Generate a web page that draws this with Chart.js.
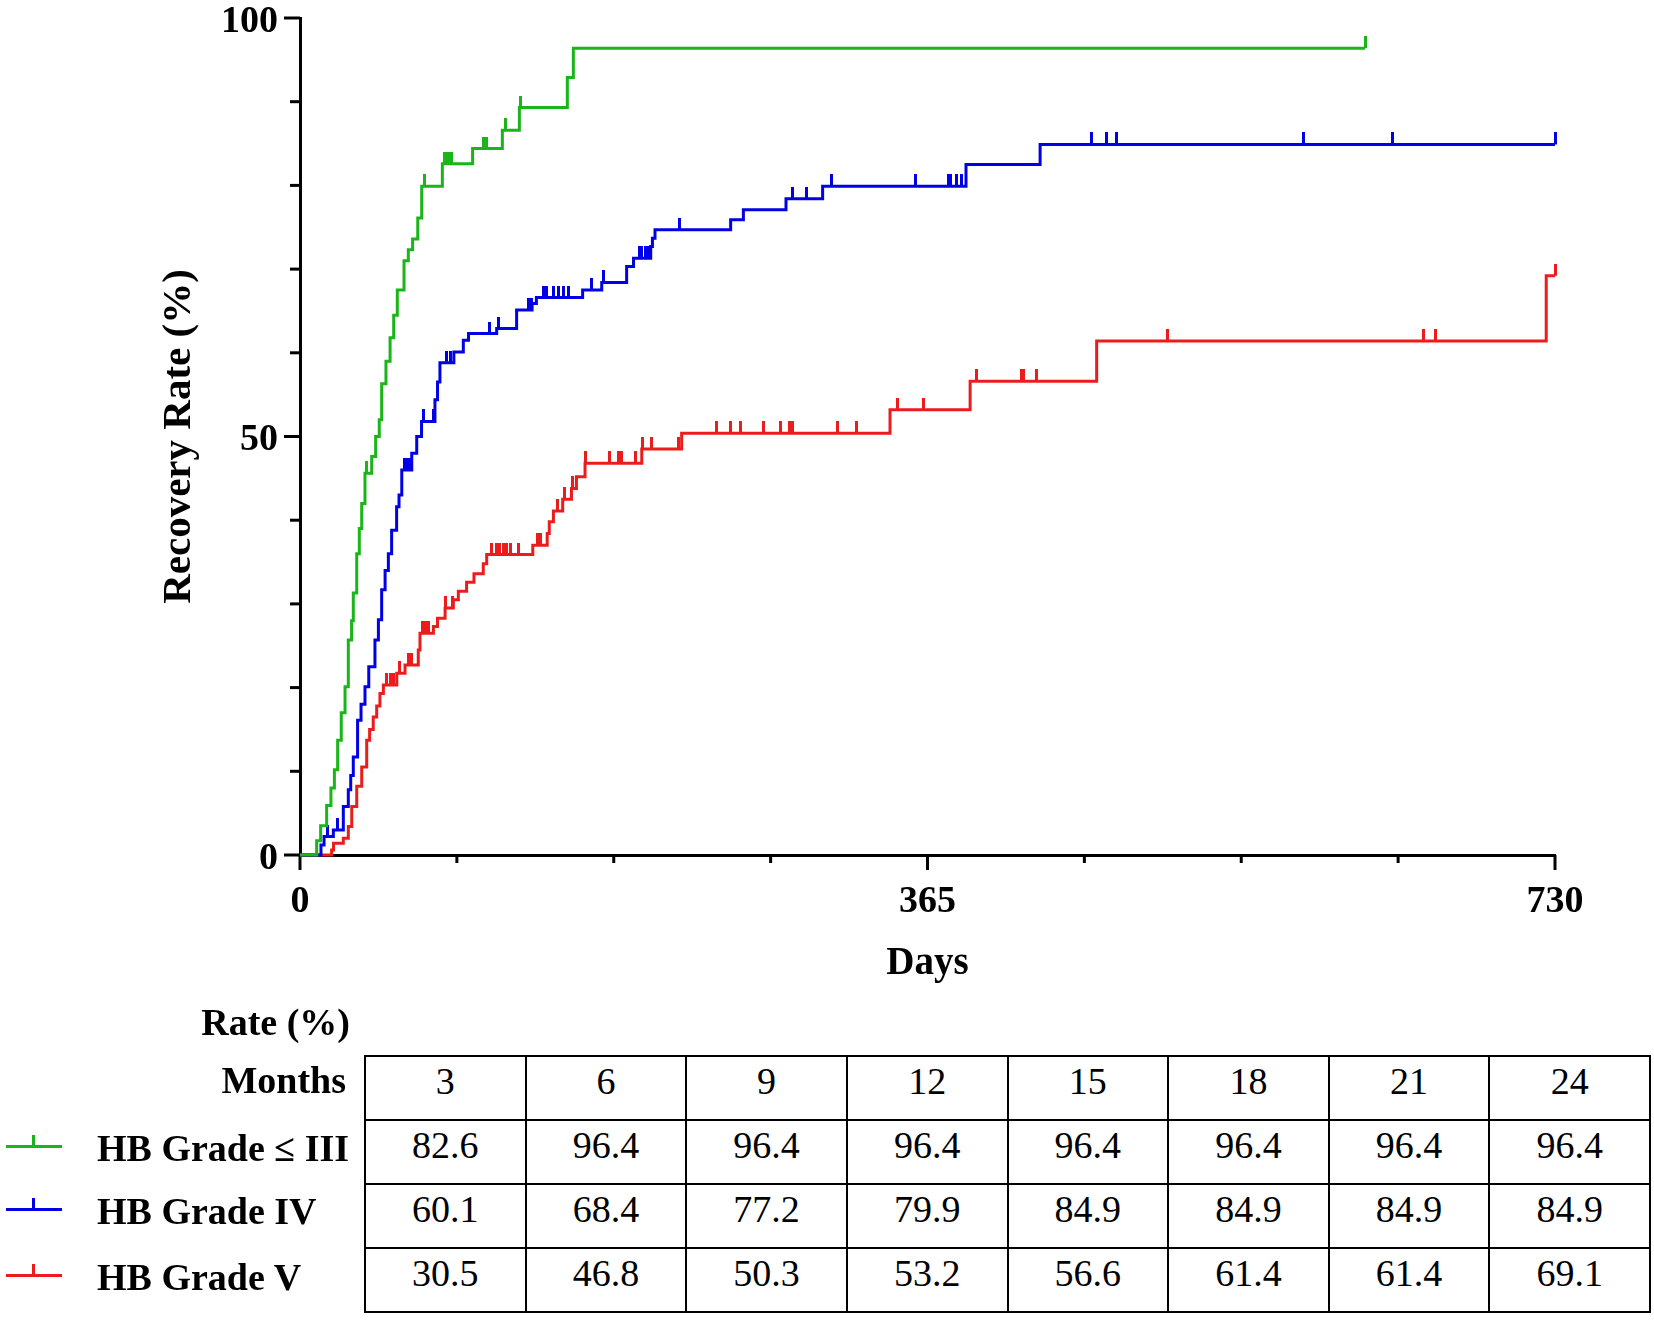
<!DOCTYPE html>
<html>
<head>
<meta charset="utf-8">
<script src="https://cdn.jsdelivr.net/npm/chart.js@4"></script>
<style>
  body { margin: 0; background: #fff; font-family: 'Liberation Serif', 'Times New Roman', serif; }
  #wrap { position: relative; width: 1654px; height: 1320px; }
  #km { position: absolute; left: 0; top: 0; }
  .lab { position: absolute; font-family: 'Liberation Serif', 'Times New Roman', serif; font-weight: bold; font-size: 38px; line-height: 50px; white-space: nowrap; }
  #rates { position: absolute; left: 364px; top: 1055px; width: 1287px; border-collapse: collapse; table-layout: fixed; }
  #rates td { border: 2px solid #000; height: 62px; padding: 0; text-align: center; vertical-align: top;
              font-family: 'Liberation Serif', 'Times New Roman', 'DejaVu Serif', serif; font-weight: normal;
              font-size: 38px; line-height: 48px; }
  .key { position: absolute; left: 6px; width: 56px; height: 3px; }
  .key span { position: absolute; left: 26px; top: -10px; width: 3px; height: 10px; }
</style>
</head>
<body>
<div id="wrap">
  <canvas id="km" width="1654" height="1000"></canvas>
  <div class="lab" style="left:0;width:350px;text-align:right;top:997px">Rate (%)</div>
  <div class="lab" style="left:0;width:346px;text-align:right;top:1055px">Months</div>
  <table id="rates"></table>
</div>
<script>
/* KM recovery curves by HB grade */

const X_TICKS = [0, 91.25, 182.5, 273.75, 365, 456.25, 547.5, 638.75, 730];
const X_LABELS = [0, 365, 730];
const Y_TICKS = [0, 10, 20, 30, 40, 50, 60, 70, 80, 90, 100];
const Y_LABELS = [0, 50, 100];

const SERIES_NAMES = ["HB Grade \u2264 III", "HB Grade IV", "HB Grade V"];
const SERIES_COLORS = ["#19b519", "#0000e6", "#ec1c1c"];

// step points: day where the curve moves up to the new rate
const GREEN_DAYS = [0, 9.7, 12, 15.5, 18, 20, 21.9, 24, 26.2, 28.1, 30, 31, 33, 34.5, 35.9, 37.8, 41.7, 44, 46.1, 47.5, 50, 52.4, 54.5, 56.6, 60.5, 63, 65.5, 68.5, 70.8, 82.8, 100.4, 117.7, 127.6, 155.5, 159, 619.5];
const GREEN_RATE = [0, 1.7, 3.5, 5.9, 8.0, 10.2, 13.7, 17.0, 20.1, 25.7, 28.0, 31.3, 36.0, 39.0, 42.0, 45.6, 47.6, 50.0, 52.0, 56.3, 59.0, 61.8, 64.5, 67.5, 71.0, 72.3, 73.6, 76.1, 79.9, 82.6, 84.4, 86.6, 89.3, 92.9, 96.4, 96.4];

const BLUE_DAYS = [0, 12.2, 14, 19.4, 25.2, 28.1, 29.5, 31, 33.5, 35.5, 37.8, 40, 43.6, 45.6, 47.5, 49.5, 51.4, 53.3, 56.2, 57.6, 59.2, 65, 67.9, 70.7, 78.5, 80, 81.4, 89.5, 95, 98, 114.4, 126, 135, 137.5, 164.4, 175.5, 190, 194, 204, 205, 206.5, 250.5, 257.9, 282.7, 304, 387.4, 430.5, 730];
const BLUE_RATE = [0, 1.2, 2.2, 3.0, 5.8, 7.8, 9.5, 11.7, 16.1, 18.0, 20.1, 22.5, 25.7, 28.1, 31.7, 34.0, 36.0, 38.8, 41.6, 43.0, 46.0, 48.0, 50.0, 51.8, 54.4, 56.5, 58.8, 60.1, 61.5, 62.3, 62.9, 65.1, 65.9, 66.6, 67.5, 68.4, 70.3, 71.3, 72.7, 73.7, 74.7, 75.9, 77.1, 78.4, 79.9, 82.5, 84.9, 84.9];

const RED_DAYS = [0, 18.4, 19.5, 25.2, 28.1, 30.1, 33, 35.9, 38.8, 40.5, 42.6, 44.6, 46.5, 48.5, 56.3, 61.1, 68.8, 69.8, 77.6, 80, 84.4, 89.2, 92.1, 96.9, 101.2, 106.6, 108.6, 135.4, 143.8, 145, 147.4, 152.8, 157.9, 160.8, 165.8, 198.8, 222, 343.2, 389.8, 463.4, 724.9, 730];
const RED_RATE = [0, 0.6, 1.4, 2.0, 3.4, 5.8, 8.2, 10.5, 13.7, 15.0, 16.5, 17.8, 19.3, 20.3, 21.7, 22.7, 24.5, 26.5, 27.3, 28.3, 29.5, 30.5, 31.5, 32.6, 33.6, 34.8, 35.9, 37.0, 38.4, 39.8, 41.1, 42.5, 43.8, 45.2, 46.8, 48.5, 50.4, 53.2, 56.6, 61.4, 69.2, 69.2];

// censored observations (tick marks)
const GREEN_CENS_DAYS = [38.7, 72.5, 84, 85.3, 86.6, 88.2, 106.7, 108.6, 119.6, 128.4, 619.5];
const GREEN_CENS_RATE = [45.6, 79.9, 82.6, 82.6, 82.6, 82.6, 84.4, 84.4, 86.6, 89.3, 96.4];

const BLUE_CENS_DAYS = [16, 22, 60.5, 62, 63.5, 71.7, 77.5, 85.3, 87.3, 110.5, 115.4, 132.8, 134.8, 141.5, 143.5, 147.4, 150.3, 153.2, 156.1, 169.7, 176.4, 197.4, 198.8, 200.7, 202.7, 220.5, 286.6, 294.7, 309.3, 358.3, 377.3, 378.4, 381.9, 384.8, 460.5, 469.3, 474.7, 583.7, 635.6, 730];
const BLUE_CENS_RATE = [2.2, 3.0, 46.0, 46.0, 46.0, 51.8, 51.8, 58.8, 58.8, 62.3, 62.9, 65.1, 65.1, 66.6, 66.6, 66.6, 66.6, 66.6, 66.6, 67.5, 68.4, 71.3, 71.3, 71.3, 71.3, 74.7, 78.4, 78.4, 79.9, 79.9, 79.9, 79.9, 79.9, 79.9, 84.9, 84.9, 84.9, 84.9, 84.9, 84.9];

const RED_CENS_DAYS = [50.4, 52.4, 54.3, 58, 63, 65, 71.2, 73.2, 74.6, 84.9, 88.7, 111.4, 114.3, 116.3, 118.2, 119.2, 120.2, 122.2, 127, 138.1, 140.1, 149.7, 153.8, 158.6, 166, 180.3, 185.2, 186.2, 187.1, 194.9, 199.5, 204.6, 220.1, 242.4, 250.5, 256.3, 269.5, 279.6, 285, 286.6, 312.6, 323.5, 347.5, 362.6, 393.3, 419.8, 420.8, 428.6, 504.6, 653.5, 660.5, 730];
const RED_CENS_RATE = [20.3, 20.3, 20.3, 21.7, 22.7, 22.7, 26.5, 26.5, 26.5, 29.5, 29.5, 35.9, 35.9, 35.9, 35.9, 35.9, 35.9, 35.9, 35.9, 37.0, 37.0, 41.1, 42.5, 43.8, 46.8, 46.8, 46.8, 46.8, 46.8, 46.8, 48.5, 48.5, 48.5, 50.4, 50.4, 50.4, 50.4, 50.4, 50.4, 50.4, 50.4, 50.4, 53.2, 53.2, 56.6, 56.6, 56.6, 56.6, 61.4, 61.4, 61.4, 69.2];

// table under the plot
const MONTHS = [3, 6, 9, 12, 15, 18, 21, 24];
const GREEN_TABLE = [82.6, 96.4, 96.4, 96.4, 96.4, 96.4, 96.4, 96.4];
const BLUE_TABLE = [60.1, 68.4, 77.2, 79.9, 84.9, 84.9, 84.9, 84.9];
const RED_TABLE = [30.5, 46.8, 50.3, 53.2, 56.6, 61.4, 61.4, 69.1];

const FONT = "'Liberation Serif', 'Times New Roman', serif";
const pts = (xs, ys) => xs.map((x, i) => ({x, y: ys[i]}));

function censorMark(color){
  const c = document.createElement("canvas");
  c.width = 3; c.height = 24;
  const g = c.getContext("2d");
  g.fillStyle = color;
  g.fillRect(0, 0, 3, 12);
  return c;
}

const curves = [[GREEN_DAYS, GREEN_RATE], [BLUE_DAYS, BLUE_RATE], [RED_DAYS, RED_RATE]];
const censors = [[GREEN_CENS_DAYS, GREEN_CENS_RATE], [BLUE_CENS_DAYS, BLUE_CENS_RATE], [RED_CENS_DAYS, RED_CENS_RATE]];

const datasets = [];
curves.forEach((c, i) => {
  datasets.push({
    label: SERIES_NAMES[i],
    data: pts(c[0], c[1]),
    borderColor: SERIES_COLORS[i],
    borderWidth: 3,
    stepped: "before",
    pointRadius: 0,
    fill: false,
    clip: false
  });
  datasets.push({
    label: SERIES_NAMES[i] + " censored",
    data: pts(censors[i][0], censors[i][1]),
    showLine: false,
    pointStyle: censorMark(SERIES_COLORS[i]),
    pointRadius: 4,
    clip: false
  });
});

// major/minor tick marks drawn from the scales
const tickMarks = {
  id: "tickMarks",
  beforeDatasetsDraw(chart){
    const {ctx, scales: {x, y}, chartArea: a} = chart;
    ctx.save();
    ctx.strokeStyle = "#000"; ctx.lineWidth = 3;
    x.ticks.forEach(t => {
      const px = x.getPixelForValue(t.value);
      const len = X_LABELS.includes(t.value) ? 15 : 8;
      ctx.beginPath(); ctx.moveTo(px, a.bottom); ctx.lineTo(px, a.bottom + len); ctx.stroke();
    });
    y.ticks.forEach(t => {
      const py = y.getPixelForValue(t.value);
      const len = Y_LABELS.includes(t.value) ? 16 : 10;
      ctx.beginPath(); ctx.moveTo(a.left, py); ctx.lineTo(a.left - len, py); ctx.stroke();
    });
    ctx.restore();
  }
};

new Chart(document.getElementById("km"), {
  type: "line",
  data: { datasets },
  plugins: [tickMarks],
  options: {
    responsive: false,
    animation: false,
    events: [],
    layout: { padding: { top: 18, right: 99, left: 0, bottom: 0 } },
    plugins: { legend: { display: false }, tooltip: { enabled: false } },
    scales: {
      x: {
        type: "linear", min: 0, max: 730,
        afterBuildTicks: s => { s.ticks = X_TICKS.map(v => ({value: v})); },
        afterFit: s => { s.height = 145; s.paddingLeft = 0; s.paddingRight = 0; },
        ticks: {
          autoSkip: false, maxRotation: 0, padding: 24, color: "#000",
          font: { family: FONT, size: 38, weight: "bold" },
          callback: v => X_LABELS.includes(v) ? String(v) : ""
        },
        grid: { drawOnChartArea: false, drawTicks: false },
        border: { display: true, color: "#000", width: 3 },
        title: { display: true, text: "Days", color: "#000", padding: { top: 0, bottom: 13 },
                 font: { family: FONT, size: 39, weight: "bold" } }
      },
      y: {
        min: 0, max: 100,
        afterBuildTicks: s => { s.ticks = Y_TICKS.map(v => ({value: v})); },
        afterFit: s => { s.width = 300; s.paddingTop = 0; s.paddingBottom = 0; },
        ticks: {
          autoSkip: false, padding: 22, labelOffset: 4, color: "#000",
          font: { family: FONT, size: 38, weight: "bold" },
          callback: v => Y_LABELS.includes(v) ? String(v) : ""
        },
        grid: { drawOnChartArea: false, drawTicks: false },
        border: { display: true, color: "#000", width: 3 },
        title: { display: true, text: "Recovery Rate (%)", color: "#000", padding: { top: 155, bottom: 0 },
                 font: { family: FONT, size: 41, weight: "bold" } }
      }
    }
  }
});

// rate table + legend keys
const table = document.getElementById("rates");
const rows = [MONTHS.map(String), GREEN_TABLE, BLUE_TABLE, RED_TABLE];
table.innerHTML = rows.map((r, i) =>
  "<tr>" + r.map(v => `<td>${i === 0 ? v : v.toFixed(1)}</td>`).join("") + "</tr>").join("");

const keyTops = [1146, 1209, 1275];
const wrap = document.getElementById("wrap");
SERIES_NAMES.forEach((name, i) => {
  const k = document.createElement("div");
  k.className = "key";
  k.style.top = (keyTops[i] - 1) + "px";
  k.style.background = SERIES_COLORS[i];
  k.innerHTML = `<span style="background:${SERIES_COLORS[i]}"></span>`;
  wrap.appendChild(k);
  const t = document.createElement("div");
  t.className = "lab";
  t.style.left = "97px";
  t.style.top = (keyTops[i] - 23) + "px";
  t.textContent = name;
  wrap.appendChild(t);
});
</script>
</body>
</html>
